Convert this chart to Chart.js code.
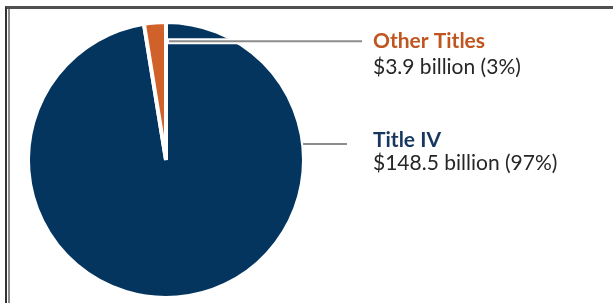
<!DOCTYPE html>
<html>
<head>
<meta charset="utf-8">
<script src="https://cdn.jsdelivr.net/npm/chart.js@4.4.0/dist/chart.umd.min.js"></script>
<style>
  html, body { margin: 0; padding: 0; background: #ffffff; overflow: hidden; }
  #wrap { position: relative; width: 613px; height: 303px; }
  .frame {
    position: absolute; left: 5px; top: 6px; width: 700px; height: 294px;
    border-top: 3px solid #505050; border-left: 2px solid #333333; border-bottom: 2px solid #9a9a9a;
  }
  .frame::after {
    content: ''; position: absolute; left: 1px; top: 0; bottom: 0;
    border-left: 2px solid #8c8c8c;
  }
  canvas { position: absolute; left: 0; top: 0; }
</style>
</head>
<body>
<div id="wrap">
  <div class="frame"></div>
  <canvas id="fundingPie" width="613" height="303"></canvas>
</div>
<script>
// Funding split (billions of dollars)
const categories = ['Title IV', 'Other Titles'];
const amounts = [148.5, 3.9];
const valueLabels = ['$148.5 billion (97%)', '$3.9 billion (3%)'];
const sliceColors = ['#03355f', '#d0612a'];
const titleColors = ['#17375e', '#c0561f'];

// Draws the leader lines and the two-line labels to the right of the pie
const calloutPlugin = {
  id: 'callouts',
  afterDatasetsDraw(chart, args, opts) {
    const ctx = chart.ctx;
    const arcs = chart.getDatasetMeta(0).data;
    const cx = arcs[0].x, cy = arcs[0].y;
    const r = arcs[0].outerRadius;

    ctx.save();
    opts.items.forEach((item) => {
      const i = item.index;
      let x0, y0;
      if (item.inside) {
        // line starts just inside the pie, right of the 12 o'clock seam
        x0 = cx + 2;
        y0 = cy - r * item.depth;
      } else {
        const dy = item.lineY - cy;
        x0 = cx + Math.sqrt(r * r - dy * dy);
        y0 = item.lineY;
      }
      if (item.inside) {
        ctx.strokeStyle = '#ffffff';
        ctx.lineWidth = 6;
        ctx.beginPath();
        ctx.moveTo(x0, y0);
        ctx.lineTo(item.lineEnd - 2, y0);
        ctx.stroke();
      }
      ctx.strokeStyle = '#8c8c8c';
      ctx.lineWidth = 2;
      ctx.beginPath();
      ctx.moveTo(x0 + (item.inside ? 1 : 0), y0);
      ctx.lineTo(item.lineEnd, y0);
      ctx.stroke();

      ctx.textAlign = 'left';
      ctx.textBaseline = 'alphabetic';
      ctx.font = 'bold 21px Lato, "Open Sans", sans-serif';
      ctx.fillStyle = titleColors[i];
      ctx.fillText(categories[i], opts.textX, item.titleY);
      ctx.font = '21px Lato, "Open Sans", sans-serif';
      ctx.fillStyle = '#262626';
      ctx.fillText(valueLabels[i], opts.textX, item.valueY);
    });
    ctx.restore();
  }
};

const ctx = document.getElementById('fundingPie').getContext('2d');
new Chart(ctx, {
  type: 'pie',
  data: {
    labels: categories,
    datasets: [{
      data: amounts,
      backgroundColor: sliceColors,
      borderColor: '#ffffff',
      borderWidth: 4,
      hoverOffset: 0
    }]
  },
  options: {
    responsive: false,
    animation: false,
    events: [],
    layout: { padding: { left: 26, top: 20, right: 307, bottom: 3 } },
    plugins: {
      legend: { display: false },
      tooltip: { enabled: false },
      callouts: {
        textX: 373,
        items: [
          { index: 1, inside: true, depth: 0.86, lineEnd: 362, titleY: 48, valueY: 74 },
          { index: 0, inside: false, lineY: 144, lineEnd: 347, titleY: 147, valueY: 170 }
        ]
      }
    }
  },
  plugins: [calloutPlugin]
});
</script>
</body>
</html>
